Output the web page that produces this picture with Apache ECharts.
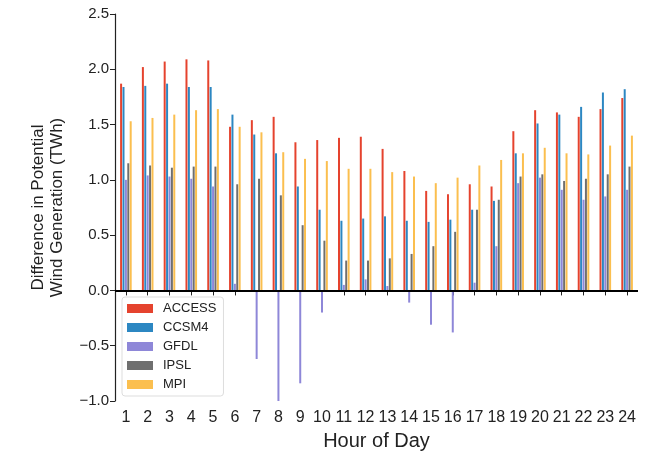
<!DOCTYPE html>
<html>
<head>
<meta charset="utf-8">
<script src="https://cdn.jsdelivr.net/npm/echarts@6/dist/echarts.min.js"></script>
<style>
  html, body { margin: 0; padding: 0; background: #fff; }
  #main { width: 645px; height: 456px; }
</style>
</head>
<body>
<div id="main"></div>
<script>
const hours = ['1', '2', '3', '4', '5', '6', '7', '8', '9', '10', '11', '12',
  '13', '14', '15', '16', '17', '18', '19', '20', '21', '22', '23', '24'];

const access = [1.87, 2.02, 2.07, 2.09, 2.08, 1.48, 1.54, 1.57, 1.34, 1.36, 1.38, 1.39,
  1.28, 1.08, 0.90, 0.87, 0.96, 0.94, 1.44, 1.63, 1.61, 1.57, 1.64, 1.74];
const ccsm4 = [1.84, 1.85, 1.87, 1.84, 1.84, 1.59, 1.41, 1.24, 0.94, 0.73, 0.63, 0.65,
  0.67, 0.63, 0.62, 0.64, 0.73, 0.81, 1.24, 1.51, 1.59, 1.66, 1.79, 1.82];
const gfdl = [1.00, 1.04, 1.03, 1.01, 0.94, 0.06, -0.62, -1.0, -0.84, -0.20, 0.05, 0.10,
  0.04, -0.11, -0.31, -0.38, 0.07, 0.40, 0.97, 1.02, 0.91, 0.82, 0.85, 0.91];
const ipsl = [1.15, 1.13, 1.11, 1.12, 1.12, 0.96, 1.01, 0.86, 0.59, 0.45, 0.27, 0.27,
  0.29, 0.33, 0.40, 0.53, 0.73, 0.82, 1.03, 1.05, 0.99, 1.01, 1.05, 1.12];
const mpi = [1.53, 1.56, 1.59, 1.63, 1.64, 1.48, 1.43, 1.25, 1.19, 1.17, 1.10, 1.10,
  1.07, 1.03, 0.97, 1.02, 1.13, 1.18, 1.24, 1.29, 1.24, 1.23, 1.31, 1.40];

const yTicks = [-1.0, 2.5, 0.5];

const myChart = echarts.init(document.getElementById('main'));

const barStyle = { type: 'bar', barWidth: 2, barGap: '20%' };

myChart.setOption({
  animation: false,
  color: ['#e5432e', '#2c87c2', '#8e87d8', '#6f6f6f', '#fbbf4f'],
  textStyle: { fontFamily: 'Liberation Sans, Arial, sans-serif' },
  grid: { left: 115, right: 7, top: 14, bottom: 55 },
  legend: {
    orient: 'vertical',
    left: 122,
    top: 297,
    padding: [5, 7, 5, 5],
    itemWidth: 26,
    itemHeight: 9,
    itemGap: 6,
    icon: 'rect',
    borderColor: '#dddddd',
    borderWidth: 1,
    borderRadius: 3,
    backgroundColor: '#fff',
    textStyle: { fontSize: 13, color: '#222', padding: [0, 0, 0, 5] },
    data: ['ACCESS', 'CCSM4', 'GFDL', 'IPSL', 'MPI'],
  },
  xAxis: {
    type: 'category',
    data: hours,
    name: 'Hour of Day',
    nameLocation: 'middle',
    nameGap: 30,
    nameTextStyle: { fontSize: 20, color: '#222' },
    axisLine: { show: false },
    axisTick: { show: true, alignWithLabel: true, length: 5, lineStyle: { color: '#222' } },
    axisLabel: { interval: 0, fontSize: 16, color: '#222', margin: 9 },
  },
  yAxis: {
    type: 'value',
    min: yTicks[0],
    max: yTicks[1],
    interval: yTicks[2],
    name: 'Difference in Potential\nWind Generation (TWh)',
    nameLocation: 'middle',
    nameGap: 48,
    nameTextStyle: { fontSize: 17, color: '#222', lineHeight: 19 },
    axisLine: { show: true, lineStyle: { color: '#222', width: 1.2 } },
    axisTick: { show: true, length: 5, lineStyle: { color: '#222' } },
    axisLabel: {
      fontSize: 15,
      color: '#222',
      margin: 6,
      formatter: (v) => v.toFixed(1).replace('-', '\u2212'),
    },
    splitLine: { show: false },
  },
  series: [
    {
      ...barStyle,
      name: 'ACCESS',
      data: access,
      markLine: {
        silent: true,
        symbol: 'none',
        label: { show: false },
        lineStyle: { color: '#000', width: 2, type: 'solid' },
        data: [{ yAxis: 0 }],
      },
    },
    { ...barStyle, name: 'CCSM4', data: ccsm4 },
    { ...barStyle, name: 'GFDL', data: gfdl },
    { ...barStyle, name: 'IPSL', data: ipsl },
    { ...barStyle, name: 'MPI', data: mpi },
  ],
});
</script>
</body>
</html>
